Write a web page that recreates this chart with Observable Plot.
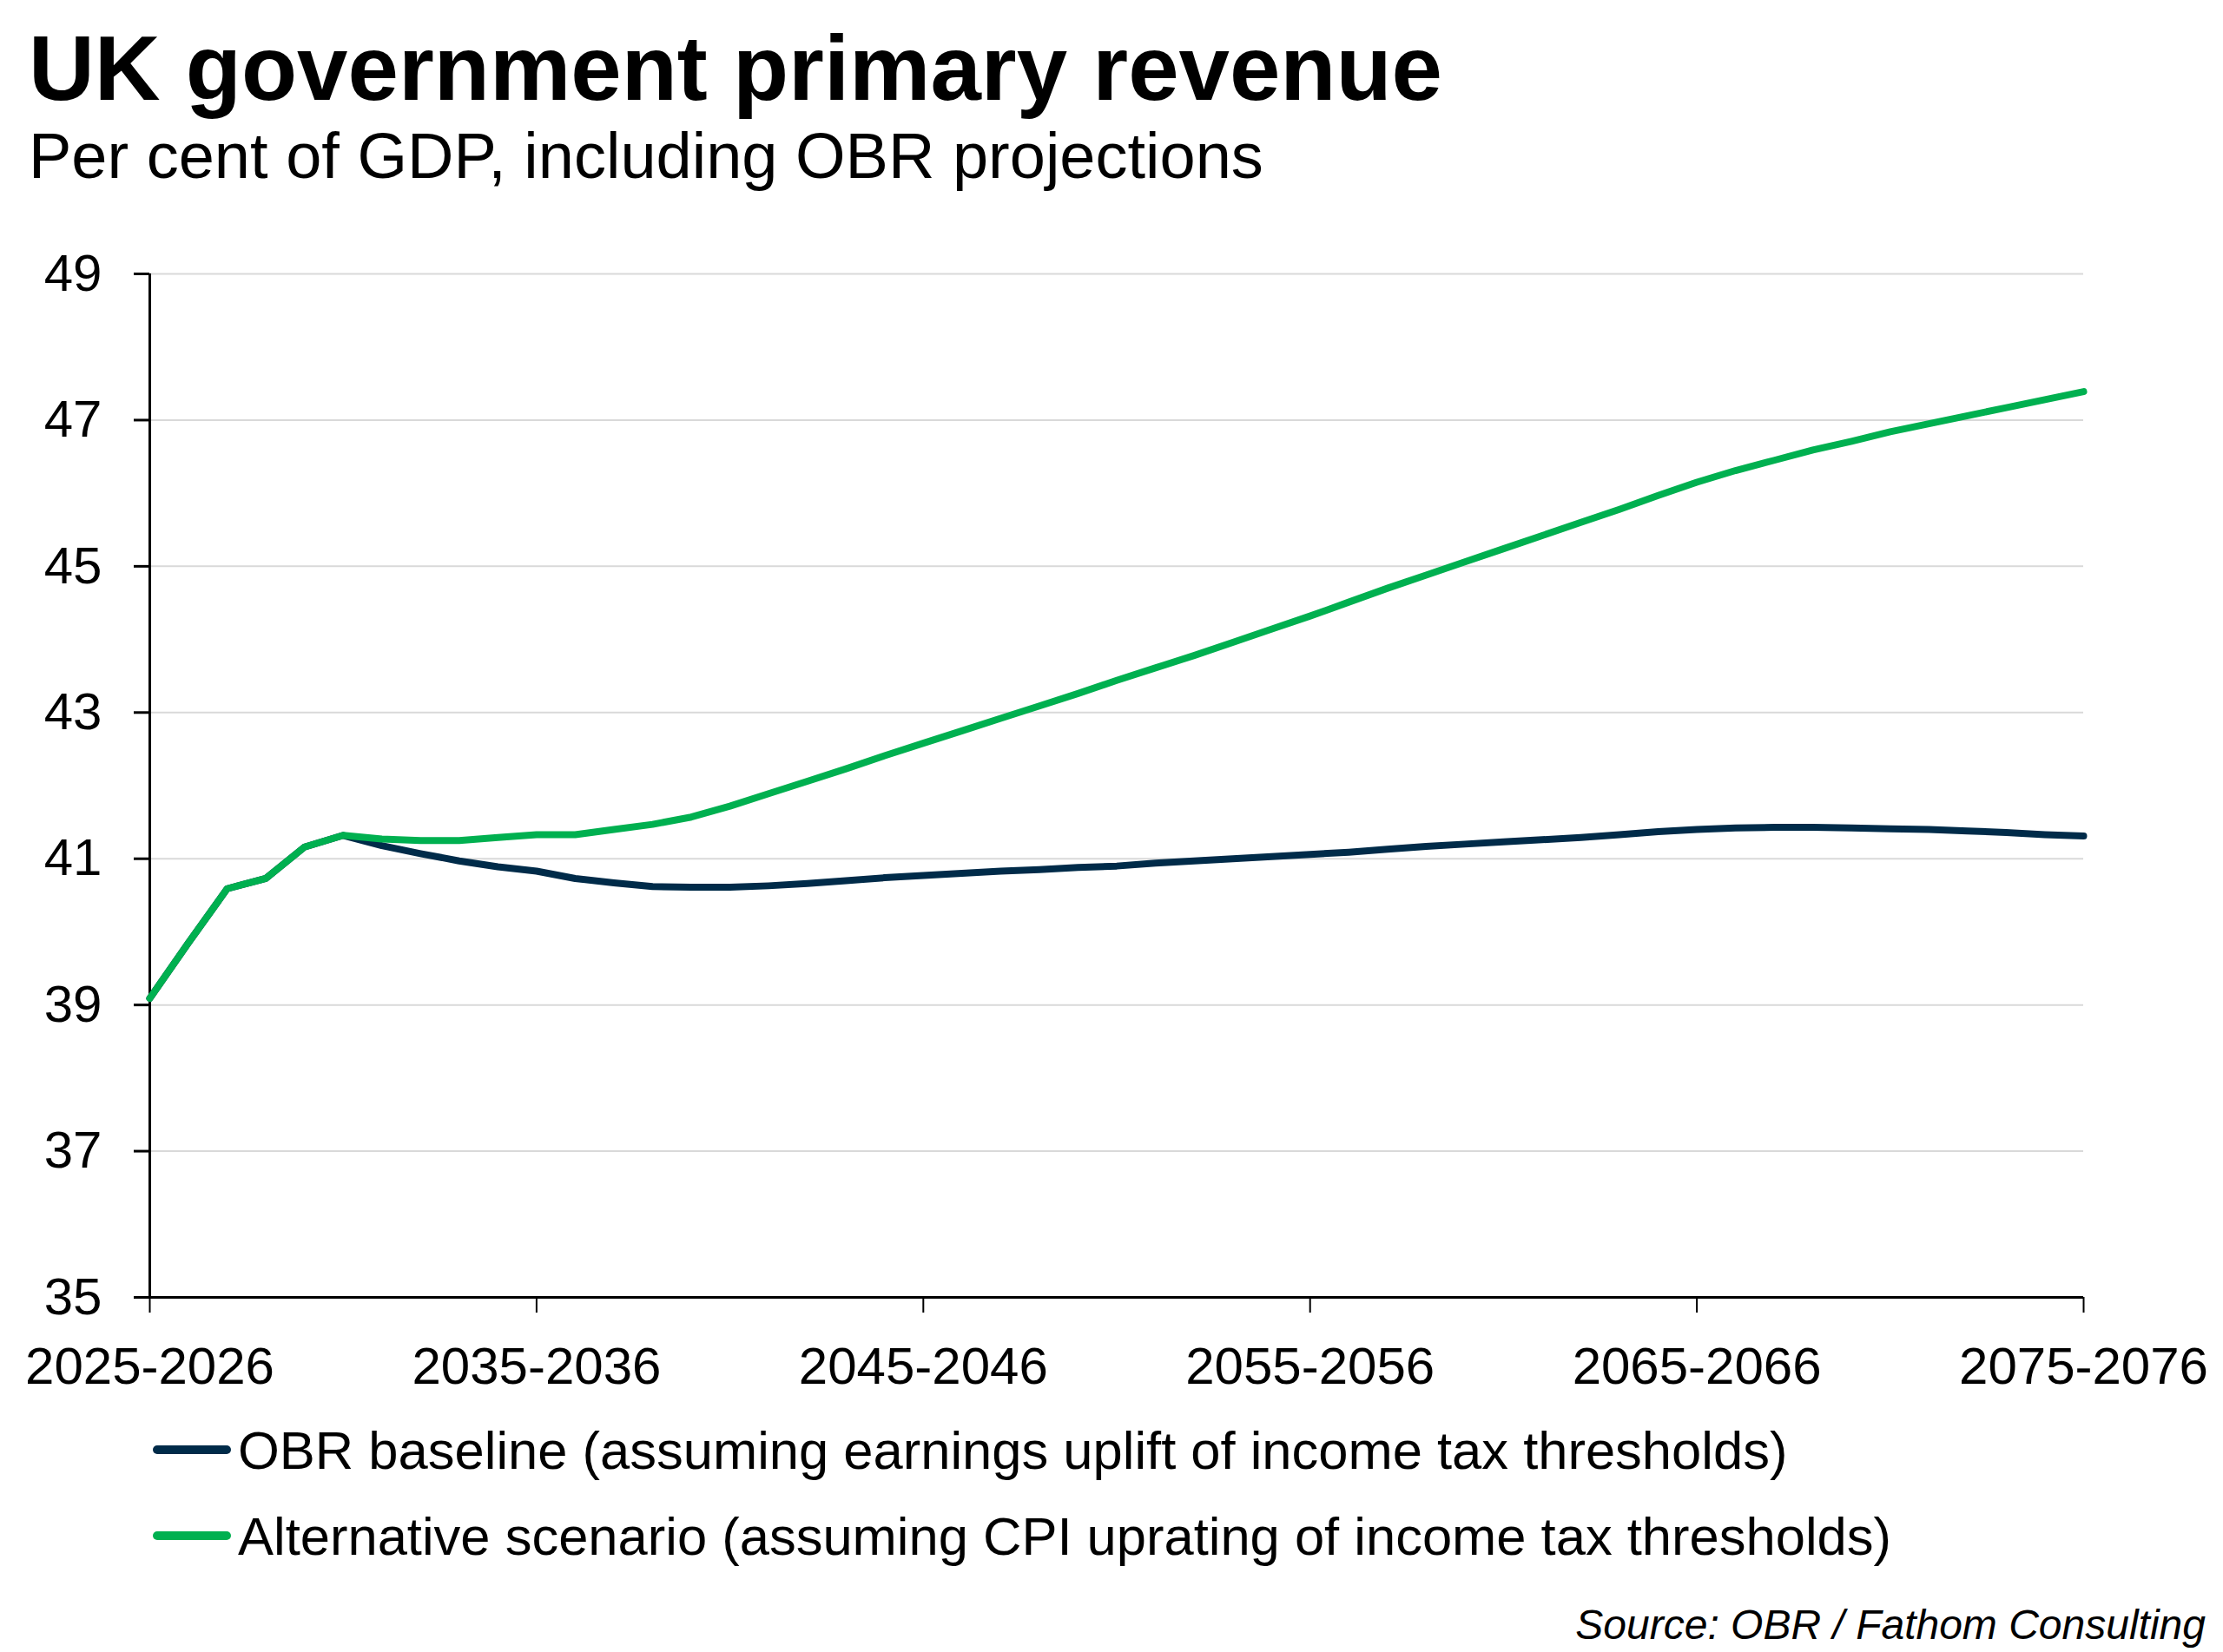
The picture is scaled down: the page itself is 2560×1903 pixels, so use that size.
<!DOCTYPE html>
<html>
<head>
<meta charset="utf-8">
<script src="https://cdn.jsdelivr.net/npm/d3@7"></script>
<script src="https://cdn.jsdelivr.net/npm/@observablehq/plot@0.6"></script>
<style>
  html, body { margin: 0; padding: 0; background: #ffffff; }
  #page { position: relative; width: 2560px; height: 1903px; background: #ffffff; font-family: "Liberation Sans", Arial, sans-serif; color: #000; overflow: hidden; }
  .txt { position: absolute; white-space: nowrap; line-height: 1; }
  #title { left: 33px; top: 26px; font-size: 105px; font-weight: bold; }
  #subtitle { left: 33px; top: 143px; font-size: 74px; }
  #chart { position: absolute; left: 0; top: 250px; }
  .swatch { position: absolute; width: 90px; height: 10px; border-radius: 5px; }
  .legtext { position: absolute; font-size: 61.5px; white-space: nowrap; line-height: 1; }
  #source { right: 20px; top: 1848px; font-size: 48px; font-style: italic; }
</style>
</head>
<body>
<div id="page">
  <div id="title" class="txt">UK government primary revenue</div>
  <div id="subtitle" class="txt">Per cent of GDP, including OBR projections</div>
  <div id="chart"></div>
  <div id="legend"></div>
  <div id="source" class="txt">Source: OBR / Fathom Consulting</div>
</div>
<script>
// Fiscal year start (2025 = 2025-2026)
const years = [2025,2026,2027,2028,2029,2030,2031,2032,2033,2034,2035,2036,2037,2038,2039,2040,
  2041,2042,2043,2044,2045,2046,2047,2048,2049,2050,2051,2052,2053,2054,2055,2056,2057,2058,2059,2060,
  2061,2062,2063,2064,2065,2066,2067,2068,2069,2070,2071,2072,2073,2074,2075];

// OBR baseline (assuming earnings uplift of income tax thresholds)
const baseline = [39.09,39.85,40.59,40.73,41.16,41.32,41.18,41.07,40.97,40.89,40.83,40.73,40.67,40.62,40.61,40.61,
  40.63,40.66,40.70,40.74,40.77,40.80,40.83,40.85,40.88,40.90,40.94,40.97,41.00,41.03,41.06,41.09,41.13,41.17,41.20,41.23,
  41.26,41.29,41.33,41.37,41.40,41.42,41.43,41.43,41.42,41.41,41.40,41.38,41.36,41.33,41.31];

// Alternative scenario (assuming CPI uprating of income tax thresholds)
const alternative = [39.09,39.85,40.59,40.73,41.16,41.32,41.27,41.25,41.25,41.29,41.33,41.33,41.40,41.47,41.57,41.72,
  41.89,42.06,42.23,42.41,42.58,42.75,42.92,43.09,43.26,43.44,43.61,43.78,43.96,44.14,44.32,44.51,44.70,44.88,45.06,45.24,
  45.42,45.60,45.78,45.97,46.15,46.31,46.45,46.59,46.71,46.84,46.95,47.06,47.17,47.28,47.39];

const seriesNames = [
  "OBR baseline (assuming earnings uplift of income tax thresholds)",
  "Alternative scenario (assuming CPI uprating of income tax thresholds)"
];
const seriesColors = ["#002B49", "#00B050"];

const xTickYears = [2025, 2035, 2045, 2055, 2065, 2075];
const xTickLabels = ["2025-2026", "2035-2036", "2045-2046", "2055-2056", "2065-2066", "2075-2076"];
const yTicks = [35, 37, 39, 41, 43, 45, 47, 49];

const baseRows = years.map((yr, i) => ({year: yr, value: baseline[i]}));
const altRows = years.map((yr, i) => ({year: yr, value: alternative[i]}));

const chart = Plot.plot({
  width: 2560,
  height: 1354,
  marginLeft: 172,
  marginRight: 161,
  marginTop: 65,
  marginBottom: 110,
  style: {fontFamily: "Liberation Sans, Arial, sans-serif", fontSize: "60px", color: "#000", background: "#fff", overflow: "visible"},
  x: {domain: [2025, 2075], axis: null},
  y: {domain: [35, 49], axis: null},
  marks: [
    Plot.gridY(yTicks.filter(d => d > 35), {stroke: "#d9d9d9", strokeOpacity: 1, strokeWidth: 2}),
    Plot.ruleX([2025], {y1: 35, y2: 49, stroke: "#000", strokeWidth: 3}),
    Plot.ruleY([35], {stroke: "#000", strokeWidth: 3}),
    Plot.axisY(yTicks, {anchor: "left", label: null, tickSize: 18, tickPadding: 37, strokeWidth: 3, fontSize: 60, tickFormat: d => String(d)}),
    Plot.axisX(xTickYears, {anchor: "bottom", label: null, tickSize: 18, tickPadding: 39, strokeWidth: 2, fontSize: 60,
      tickFormat: d => xTickLabels[xTickYears.indexOf(d)]}),
    Plot.lineY(baseRows, {x: "year", y: "value", stroke: seriesColors[0], strokeWidth: 8, strokeLinejoin: "round", strokeLinecap: "round"}),
    Plot.lineY(altRows, {x: "year", y: "value", stroke: seriesColors[1], strokeWidth: 8, strokeLinejoin: "round", strokeLinecap: "round"})
  ]
});
document.getElementById("chart").appendChild(chart);

// Legend
const legend = document.getElementById("legend");
const rowCenters = [1670, 1769];
seriesNames.forEach((name, i) => {
  const sw = document.createElement("div");
  sw.className = "swatch";
  sw.style.left = "176px";
  sw.style.top = (rowCenters[i] - 5) + "px";
  sw.style.background = seriesColors[i];
  legend.appendChild(sw);
  const t = document.createElement("div");
  t.className = "legtext";
  t.style.left = "274px";
  t.style.top = (rowCenters[i] + 22 - 52) + "px";
  t.textContent = name;
  legend.appendChild(t);
});
</script>
</body>
</html>
